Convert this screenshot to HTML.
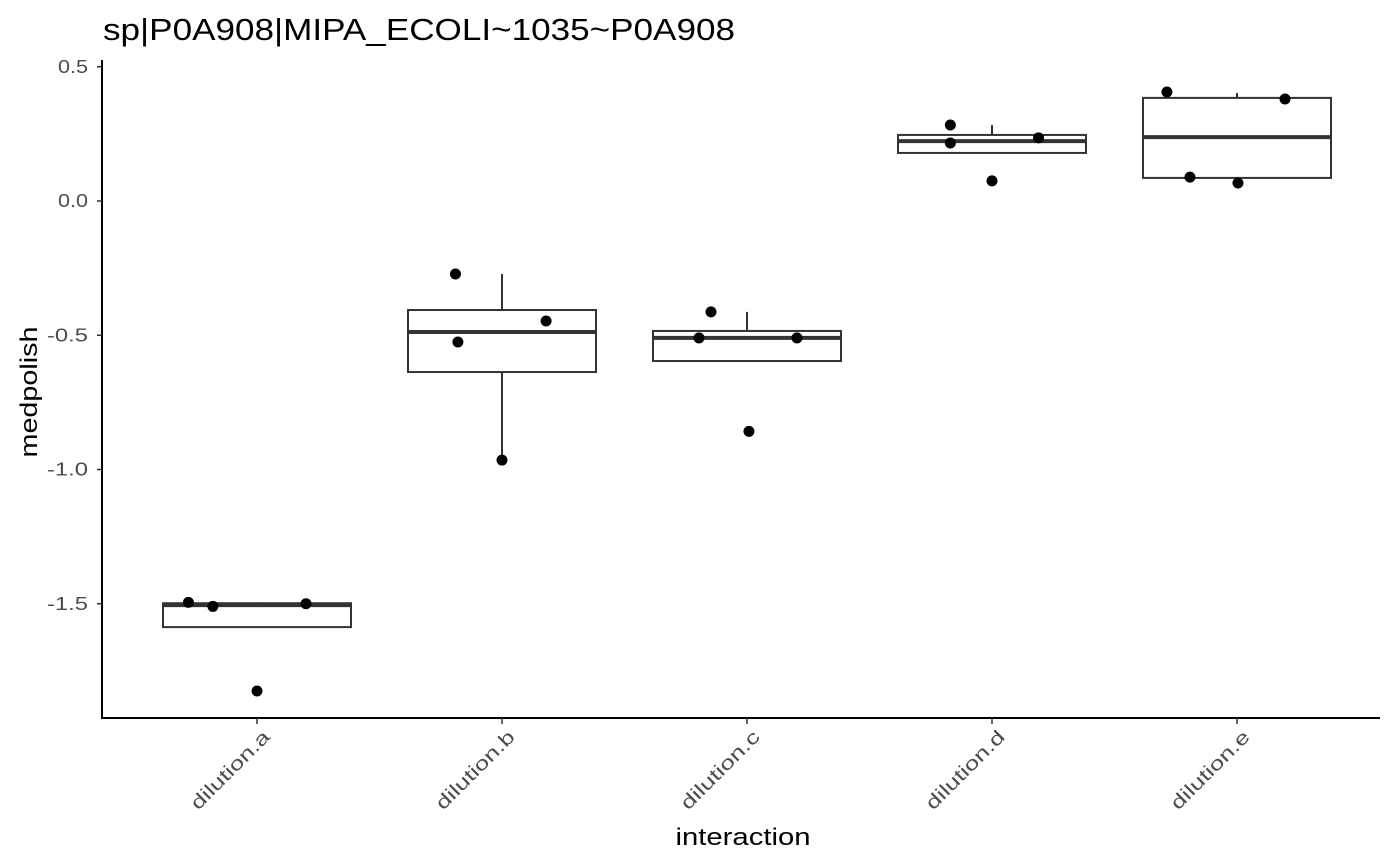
<!DOCTYPE html>
<html><head><meta charset="utf-8"><style>
body{margin:0;background:#fff}
svg{display:block;font-family:"Liberation Sans",Arial,sans-serif}
</style></head><body>
<svg id="chart" width="1400" height="866">
<text x="103" y="40" font-size="31" textLength="632" lengthAdjust="spacingAndGlyphs" fill="#000">sp|P0A908|MIPA_ECOLI~1035~P0A908</text>
<text transform="translate(37,392) rotate(-90)" text-anchor="middle" font-size="24" textLength="131" lengthAdjust="spacingAndGlyphs" fill="#000">medpolish</text>
<text x="743" y="845" text-anchor="middle" font-size="24" textLength="135" lengthAdjust="spacingAndGlyphs" fill="#000">interaction</text>
<g id="plot"></g>
</svg>
<script>
const categories=["dilution.a","dilution.b","dilution.c","dilution.d","dilution.e"];
const q1=[-1.587,-0.637,-0.596,0.179,0.086];
const med=[-1.505,-0.488,-0.51,0.223,0.238];
const q3=[-1.498,-0.406,-0.484,0.246,0.384];
const whiskLo=[-1.587,-0.965,-0.596,0.179,0.086];
const whiskHi=[-1.495,-0.272,-0.413,0.283,0.402];
const pointCat=[0,0,0,0,1,1,1,1,2,2,2,2,3,3,3,3,4,4,4,4];
const pointJitter=[-0.28,-0.18,0.2,0.0,-0.19,-0.18,0.18,0.0,-0.147,-0.196,0.204,0.008,-0.17,-0.17,0.19,0.0,-0.286,0.196,-0.192,0.004];
const pointVal=[-1.495,-1.51,-1.50,-1.825,-0.272,-0.525,-0.447,-0.965,-0.413,-0.51,-0.51,-0.858,0.283,0.216,0.235,0.075,0.406,0.38,0.089,0.067];
const yTicks=[0.5,0.0,-0.5,-1.0,-1.5];
const yTickLabels=["0.5","0.0","-0.5","-1.0","-1.5"];

const NS="http://www.w3.org/2000/svg";
const g=document.getElementById("plot");
const y=v=>201-v*268.5;
const x=i=>257+i*245;
const bw=188;
function el(t,a){const e=document.createElementNS(NS,t);for(const k in a)e.setAttribute(k,a[k]);g.appendChild(e);return e;}
let e;
e=el("line",{x1:102,y1:60,x2:102,y2:719,stroke:"#000","stroke-width":2});


e=el("line",{x1:101,y1:718,x2:1380,y2:718,stroke:"#000","stroke-width":2});


yTicks.forEach((v,i)=>{
 e=el("line",{x1:97,x2:102,y1:y(v),y2:y(v),stroke:"#333","stroke-width":1.5});
 
 
 const lab=yTickLabels[i];
 e=el("text",{x:88,y:y(v)+6,"text-anchor":"end","font-size":18,fill:"#4d4d4d",textLength:lab.length*10+(lab[0]==="-"?1:0),lengthAdjust:"spacingAndGlyphs"});
 e.textContent=lab;
 
 
});
categories.forEach((c,i)=>{
 const cx=x(i);
 e=el("line",{x1:cx,x2:cx,y1:718,y2:724,stroke:"#333","stroke-width":1.5});
 
 
 e=el("text",{x:0,y:0,"text-anchor":"end","font-size":19,fill:"#4d4d4d",textLength:103,lengthAdjust:"spacingAndGlyphs",transform:`translate(${cx+14},${738}) rotate(-45)`});
 e.textContent=c;
 
 
 e=el("line",{x1:cx,x2:cx,y1:y(whiskHi[i]),y2:y(q3[i]),stroke:"#333","stroke-width":2});
 
 
 e=el("line",{x1:cx,x2:cx,y1:y(q1[i]),y2:y(whiskLo[i]),stroke:"#333","stroke-width":2});
 
 
 e=el("rect",{x:cx-bw/2,y:y(q3[i]),width:bw,height:y(q1[i])-y(q3[i]),fill:"#fff",stroke:"#333","stroke-width":2});
 
 
 e=el("line",{x1:cx-bw/2,x2:cx+bw/2,y1:y(med[i]),y2:y(med[i]),stroke:"#333","stroke-width":4});
 
 
});
pointVal.forEach((v,k)=>{
 e=el("circle",{cx:x(pointCat[k])+pointJitter[k]*245,cy:y(v),r:5.5,fill:"#000"});
 
 
});
</script>
</body></html>
